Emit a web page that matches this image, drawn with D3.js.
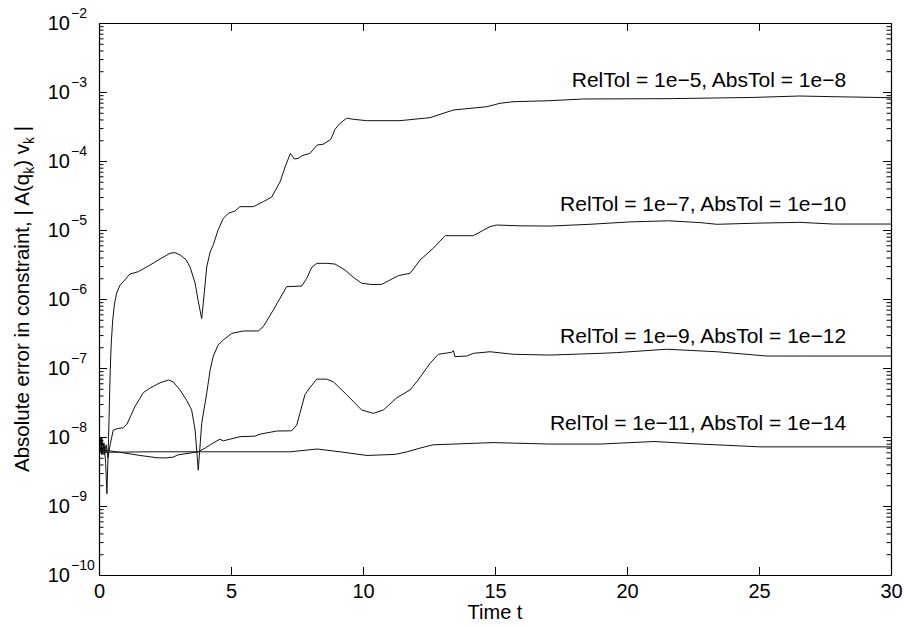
<!DOCTYPE html>
<html>
<head>
<meta charset="utf-8">
<script src="https://cdn.jsdelivr.net/npm/d3@7/dist/d3.min.js"></script>
<style>
  html, body { margin: 0; padding: 0; background: #fff; }
  svg { display: block; }
  text { font-family: "Liberation Sans", Arial, Helvetica, sans-serif; fill: #000; }
</style>
</head>
<body>
<svg id="chart" width="904" height="627"></svg>
<script>
// Constraint error |A(q_k) v_k| versus time for four solver tolerance settings.
const series1 = [[0,6.9e-9],[0.06,9.7e-9],[0.11,7.4e-9],[0.19,8.2e-9],[0.25,4.3e-9],[0.30,1.5e-9],[0.36,9.1e-9],[0.42,7.9e-8],[0.46,2.15e-7],[0.52,5.0e-7],[0.59,8.7e-7],[0.67,1.22e-6],[0.80,1.6e-6],[0.92,1.78e-6],[1.17,2.3e-6],[1.49,2.49e-6],[1.93,3.1e-6],[2.31,3.8e-6],[2.69,4.6e-6],[2.88,4.7e-6],[3.07,4.35e-6],[3.30,3.7e-6],[3.45,2.9e-6],[3.64,1.7e-6],[3.75,9.7e-7],[3.89,5.2e-7],[3.98,1.14e-6],[4.08,2.9e-6],[4.21,4.8e-6],[4.33,6.1e-6],[4.51,1.0e-5],[4.71,1.48e-5],[4.90,1.75e-5],[5.15,1.88e-5],[5.34,2.18e-5],[5.85,2.18e-5],[6.22,2.57e-5],[6.54,3.0e-5],[6.86,5.0e-5],[7.05,8.2e-5],[7.25,1.29e-4],[7.40,1.07e-4],[7.55,1.09e-4],[7.68,1.19e-4],[7.99,1.29e-4],[8.27,1.71e-4],[8.50,1.75e-4],[8.78,2.06e-4],[8.94,2.88e-4],[9.13,3.52e-4],[9.38,4.16e-4],[9.70,4.0e-4],[10.14,3.84e-4],[11.40,3.84e-4],[12.54,4.25e-4],[13.42,5.48e-4],[14.69,6.12e-4],[15.19,6.86e-4],[15.68,7.23e-4],[17.08,7.48e-4],[18.33,7.92e-4],[21.52,8.0e-4],[24.66,8.32e-4],[26.55,8.75e-4],[27.80,8.55e-4],[30,8.27e-4]];

const series2 = [[0,9.05e-9],[0.06,6.1e-9],[0.11,9.7e-9],[0.19,5.5e-9],[0.27,7.7e-9],[0.34,5.0e-9],[0.42,7.7e-9],[0.54,1.26e-8],[0.72,1.33e-8],[0.92,1.36e-8],[1.06,1.54e-8],[1.36,2.75e-8],[1.68,4.4e-8],[1.93,5.1e-8],[2.31,6.1e-8],[2.63,6.7e-8],[2.81,6.3e-8],[3.07,4.8e-8],[3.32,3.4e-8],[3.51,2.46e-8],[3.64,1.26e-8],[3.76,3.3e-9],[3.89,1.58e-8],[4.08,4.3e-8],[4.21,9.4e-8],[4.33,1.49e-7],[4.51,2.15e-7],[4.71,2.55e-7],[5.03,3.18e-7],[5.47,3.44e-7],[6.03,3.44e-7],[6.22,3.97e-7],[6.60,6.9e-7],[7.11,1.51e-6],[7.68,1.54e-6],[7.87,2.0e-6],[8.06,2.88e-6],[8.25,3.29e-6],[8.67,3.28e-6],[8.94,3.21e-6],[9.32,2.63e-6],[9.62,2.08e-6],[9.95,1.69e-6],[10.34,1.62e-6],[10.71,1.63e-6],[11.02,1.88e-6],[11.34,2.18e-6],[11.78,2.36e-6],[11.97,2.91e-6],[12.16,3.67e-6],[12.66,5.43e-6],[13.11,8.27e-6],[14.18,8.27e-6],[14.51,9.7e-6],[14.81,1.12e-5],[15.06,1.18e-5],[15.95,1.15e-5],[17.08,1.14e-5],[18.60,1.21e-5],[20.11,1.31e-5],[21.56,1.36e-5],[22.77,1.28e-5],[23.40,1.21e-5],[25.04,1.26e-5],[26.55,1.29e-5],[27.81,1.22e-5],[30,1.22e-5]];

const series3 = [[0,6.5e-9],[0.06,9.05e-9],[0.11,5.5e-9],[0.17,8.2e-9],[0.23,5.9e-9],[0.30,6.5e-9],[0.42,6.3e-9],[0.92,5.9e-9],[1.55,5.4e-9],[2.20,5.0e-9],[2.54,4.97e-9],[2.80,5.1e-9],[2.99,5.5e-9],[3.75,6.1e-9],[4.02,6.9e-9],[4.21,7.7e-9],[4.58,9.3e-9],[4.71,8.8e-9],[5.34,1.01e-8],[5.91,1.03e-8],[6.10,1.1e-8],[6.73,1.22e-8],[7.30,1.23e-8],[7.49,1.49e-8],[7.61,2.2e-8],[7.80,4.1e-8],[7.99,5.2e-8],[8.25,6.9e-8],[8.63,6.9e-8],[8.88,6.3e-8],[9.38,4.1e-8],[9.95,2.46e-8],[10.39,2.2e-8],[10.77,2.46e-8],[11.28,3.7e-8],[11.78,4.8e-8],[12.09,6.7e-8],[12.54,1.17e-7],[12.85,1.58e-7],[13.36,1.69e-7],[13.43,1.79e-7],[13.48,1.46e-7],[13.93,1.49e-7],[14.18,1.63e-7],[14.81,1.72e-7],[15.69,1.58e-7],[17.08,1.54e-7],[18.98,1.63e-7],[19.61,1.67e-7],[21.50,1.87e-7],[23.40,1.72e-7],[25.30,1.49e-7],[30,1.49e-7]];

const series4 = [[0,7.4e-9],[0.06,9.05e-9],[0.11,6.1e-9],[0.17,7.2e-9],[0.27,6.0e-9],[1.93,6.1e-9],[7.24,6.1e-9],[8.26,6.7e-9],[9.13,6.1e-9],[10.15,5.4e-9],[11.21,5.6e-9],[11.67,6.1e-9],[12.16,6.9e-9],[12.65,7.7e-9],[14.92,8.3e-9],[17.08,7.9e-9],[18.98,7.9e-9],[21.02,8.6e-9],[22.77,7.9e-9],[25.04,7.2e-9],[30,7.2e-9]];

const allSeries = [series1, series2, series3, series4];
const seriesLabels = ["RelTol = 1e\u22125, AbsTol = 1e\u22128", "RelTol = 1e\u22127, AbsTol = 1e\u221210", "RelTol = 1e\u22129, AbsTol = 1e\u221212", "RelTol = 1e\u221211, AbsTol = 1e\u221214"];
// value at which each label's baseline sits
const labelLevels = [1.18e-3, 1.88e-5, 2.3e-7, 1.26e-8];
const labelTime = 28.3;

const xTicks = [0, 5, 10, 15, 20, 25, 30];
const yExponents = [-10, -9, -8, -7, -6, -5, -4, -3, -2];

const margin = { left: 99, top: 23, right: 13, bottom: 52 };
const W = 904, H = 627;
const plotW = W - margin.left - margin.right;
const plotH = H - margin.top - margin.bottom;

const svg = d3.select("#chart");
const g = svg.append("g").attr("transform", `translate(${margin.left},${margin.top})`);

const x = d3.scaleLinear().domain([0, 30]).range([0, plotW]);
const y = d3.scaleLog().domain([1e-10, 1e-2]).range([plotH, 0]);

const majorY = yExponents.map(e => Math.pow(10, e));
const minorY = [];
yExponents.slice(0, -1).forEach(e => { for (let m = 2; m <= 9; m++) minorY.push(m * Math.pow(10, e)); });

g.append("clipPath").attr("id", "plotClip")
  .append("rect").attr("width", plotW).attr("height", plotH);

// curves
const line = d3.line().x(d => x(d[0])).y(d => y(d[1]));
g.append("g").attr("clip-path", "url(#plotClip)")
  .selectAll("path").data(allSeries).join("path")
  .attr("d", line)
  .attr("fill", "none")
  .attr("stroke", "#111")
  .attr("stroke-width", 1)
  .attr("stroke-linejoin", "round");

// axes: ticks point inward on all four sides
function styleAxis(sel) {
  sel.selectAll("path.domain").attr("stroke", "#000").attr("stroke-width", 1.2);
  sel.selectAll(".tick line").attr("stroke", "#000").attr("stroke-width", 1);
}

const xBottom = g.append("g").attr("transform", `translate(0,${plotH})`)
  .call(d3.axisBottom(x).tickValues(xTicks).tickSizeInner(-8).tickSizeOuter(0).tickPadding(9).tickFormat(d3.format("d")));
styleAxis(xBottom);
xBottom.selectAll(".tick text").attr("font-size", 20).attr("font-family", "Liberation Sans, Arial, sans-serif");

const xTop = g.append("g")
  .call(d3.axisTop(x).tickValues(xTicks).tickSizeInner(-8).tickSizeOuter(0).tickFormat(""));
styleAxis(xTop);

function yAxisPair(axisFn, offset) {
  const major = g.append("g").attr("transform", `translate(${offset},0)`)
    .call(axisFn(y).tickValues(majorY).tickSizeInner(-8).tickSizeOuter(0).tickFormat(""));
  styleAxis(major);
  const minor = g.append("g").attr("transform", `translate(${offset},0)`)
    .call(axisFn(y).tickValues(minorY).tickSizeInner(-4.5).tickSizeOuter(0).tickFormat(""));
  styleAxis(minor);
  minor.select("path.domain").remove();
}
yAxisPair(d3.axisLeft, 0);
yAxisPair(d3.axisRight, plotW);

// y tick labels as 10 with superscript exponent
const yLab = g.append("g").selectAll("g").data(yExponents).join("g")
  .attr("transform", e => `translate(0,${y(Math.pow(10, e))})`);
yLab.append("text").attr("x", -29).attr("y", 7).attr("text-anchor", "end")
  .attr("font-size", 20).text("10");
yLab.append("text").attr("x", -28).attr("y", -5).attr("text-anchor", "start")
  .attr("font-size", 14).text(e => (e < 0 ? "\u2212" : "") + Math.abs(e));

// series labels
g.append("g").selectAll("text").data(seriesLabels).join("text")
  .attr("x", x(labelTime)).attr("y", (d, i) => y(labelLevels[i]))
  .attr("text-anchor", "end").attr("font-size", 21).text(d => d);

// axis titles
g.append("text").attr("x", plotW / 2).attr("y", plotH + 44)
  .attr("text-anchor", "middle").attr("font-size", 20).text("Time t");

const yTitle = g.append("text")
  .attr("transform", `translate(${-margin.left + 29},${plotH / 2}) rotate(-90)`)
  .attr("text-anchor", "middle").attr("font-size", 20.5);
yTitle.append("tspan").text("Absolute error in constraint,  | A(q");
yTitle.append("tspan").attr("font-size", 14).attr("dy", 5).text("k");
yTitle.append("tspan").attr("dy", -5).text(") v");
yTitle.append("tspan").attr("font-size", 14).attr("dy", 5).text("k");
yTitle.append("tspan").attr("dy", -5).text(" |");
</script>
</body>
</html>
